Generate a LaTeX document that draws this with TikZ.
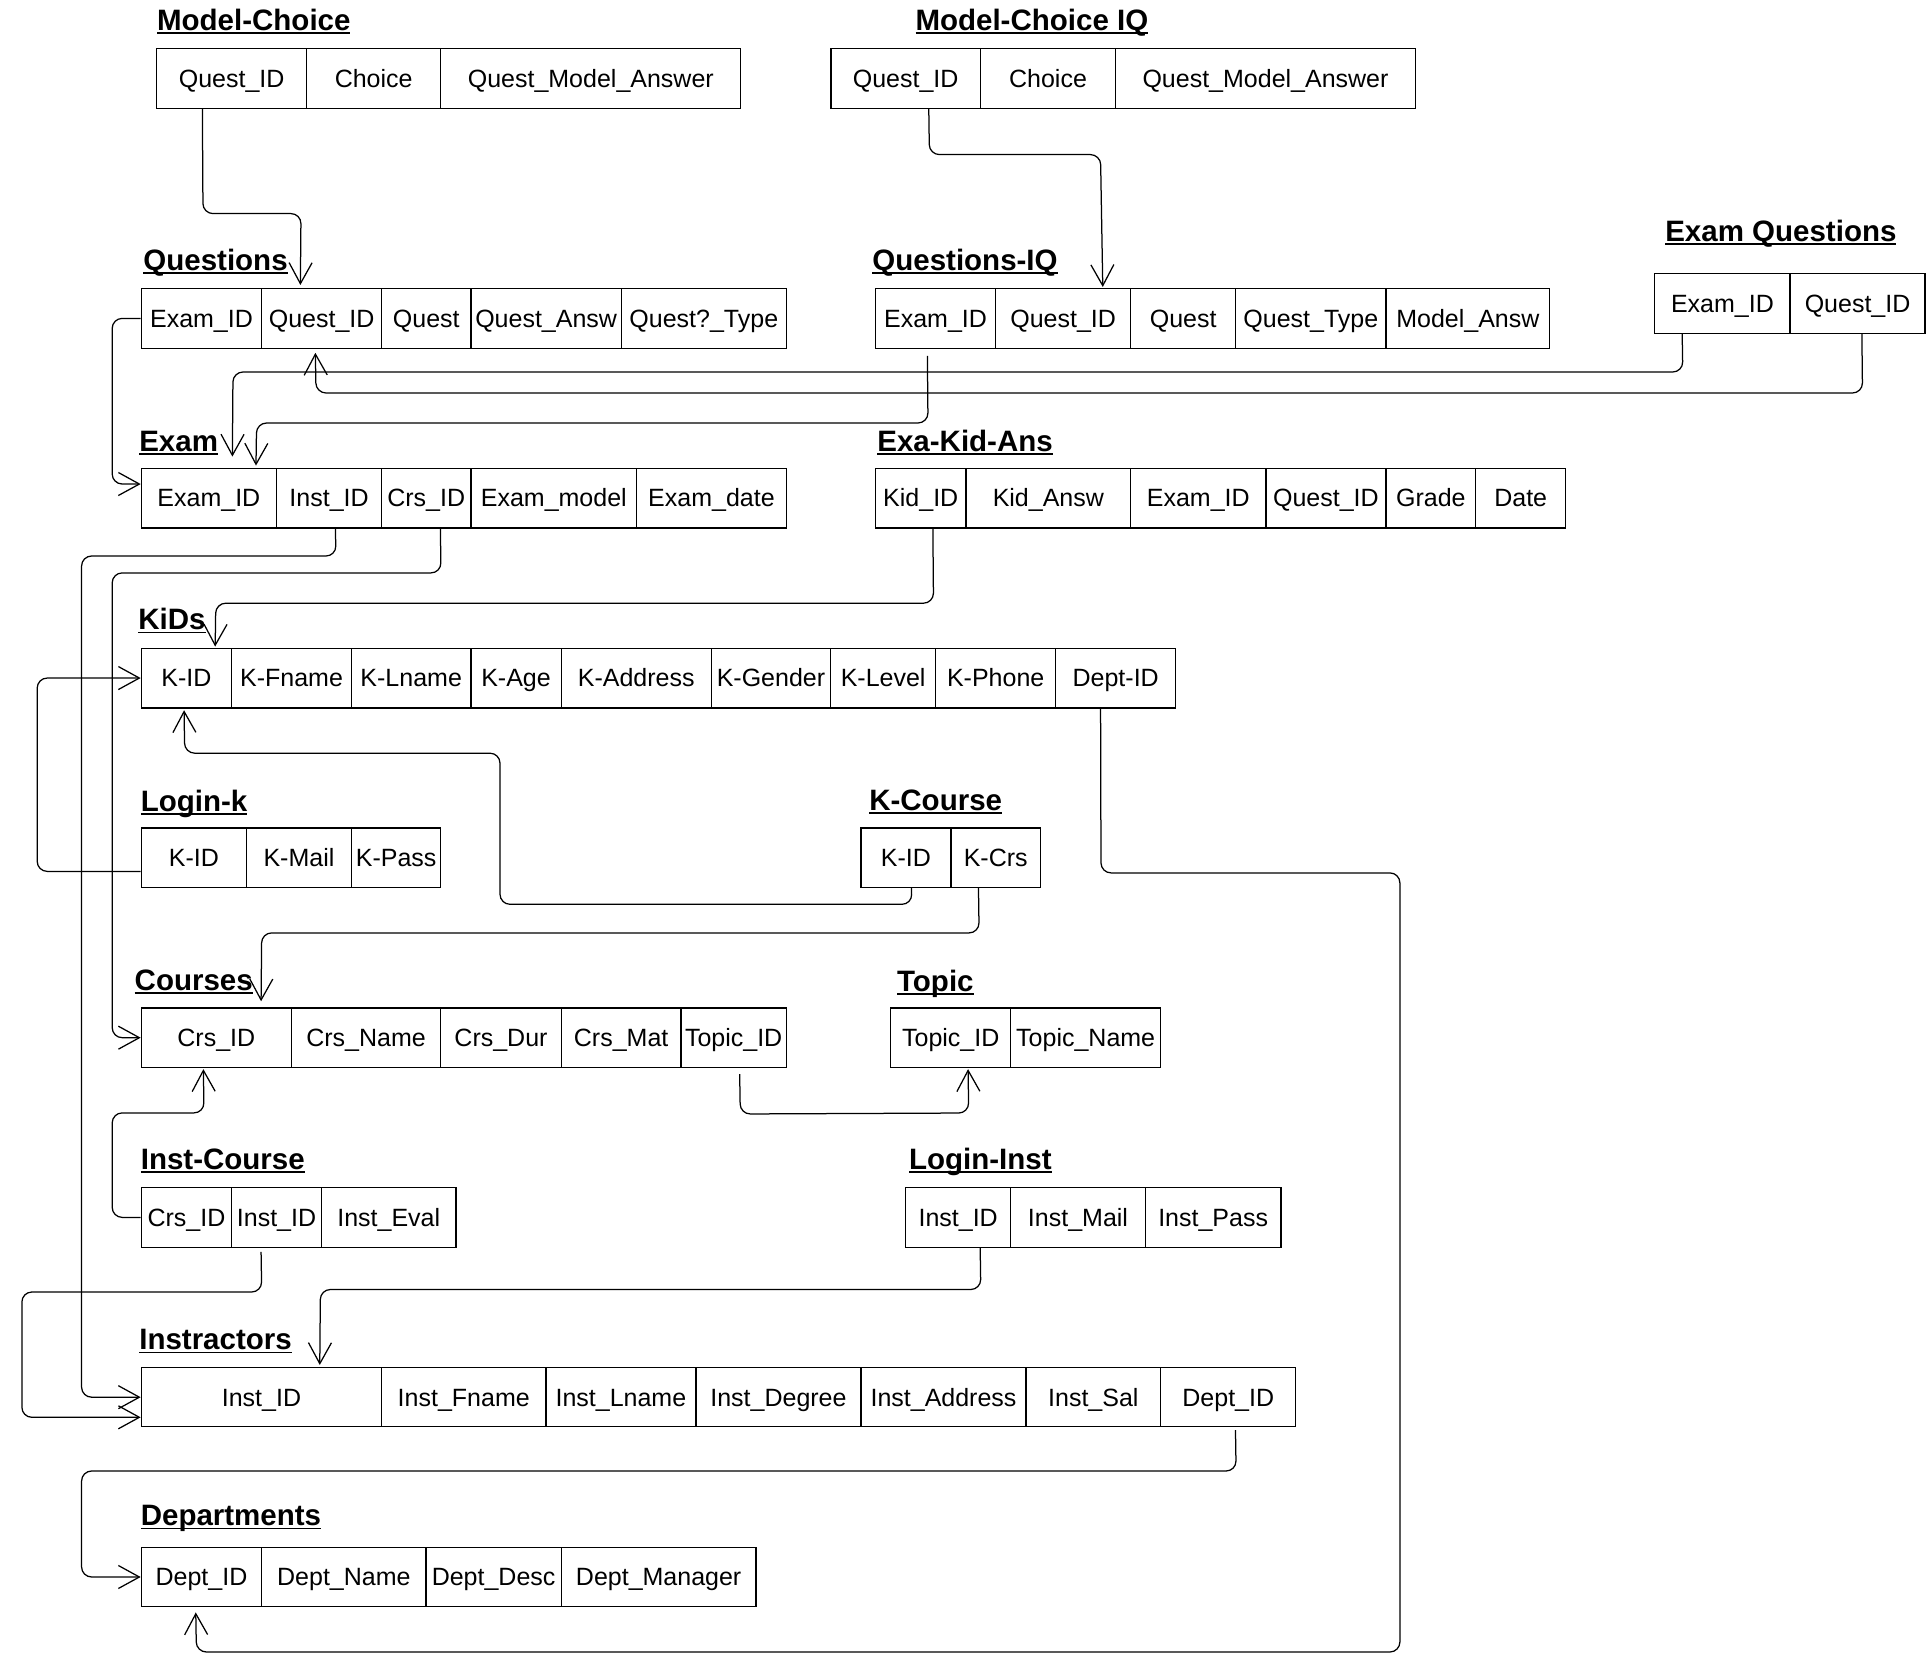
\documentclass[tikz,border=0pt]{standalone}
\usepackage{fontspec}
\setmainfont{Liberation Sans}
\usetikzlibrary{calc,arrows.meta}
\newcommand\cellfont{\fontsize{10}{12}\selectfont}
\newcommand\titlefont{\fontsize{11.8}{14}\selectfont\bfseries}
\newsavebox\ttlbox
\newcommand\ultitle[1]{\sbox\ttlbox{#1}\rlap{\rule[-1.4pt]{\wd\ttlbox}{0.7pt}}\usebox\ttlbox}
\newcommand\dbrow[4]{%
  \foreach \xa/\xb/\txt [count=\i] in {#4}{%
    \node[cellbox, minimum width={(\xb-\xa)*0.4pt}, minimum height={(#3-#2)*0.4pt}]
      (#1\i) at ({(\xa+\xb)/2},{(#2+#3)/2}) {\txt};
  }}
\begin{document}
\begin{tikzpicture}[x=0.4pt,y=-0.4pt,
  cellbox/.style={draw, line width=0.5pt, inner sep=0pt, font=\cellfont, text height=7.16pt, text depth=0pt},
  ttl/.style={anchor=base west, inner sep=0pt, font=\titlefont},
  link/.style={draw, line width=0.5pt, rounded corners=4pt, -{Straight Barb[length=8.4pt,width=9.2pt]}}]
\useasboundingbox (0,0) rectangle (1927,1677);

% titles
\node[ttl] (tmc)   at (156.6,30.3)  {\ultitle{Model-Choice}};
\node[ttl] (tmciq) at (915,30.3)    {\ultitle{Model-Choice IQ}};
\node[ttl] (tq)    at (142.9,270.7) {\ultitle{Questions}};
\node[ttl] (tqiq)  at (871.9,270.7) {\ultitle{Questions-IQ}};
\node[ttl] (teq)   at (1664.8,241.1){\ultitle{Exam Questions}};
\node[ttl] (tex)   at (138.8,451.7) {\ultitle{Exam}};
\node[ttl] (teka)  at (876.9,451.7) {\ultitle{Exa-Kid-Ans}};
\node[ttl] (tk)    at (137.8,630)   {\ultitle{KiDs}};
\node[ttl] (tlk)   at (140.3,811.4) {\ultitle{Login-k}};
\node[ttl] (tkc)   at (868.8,810.3) {\ultitle{K-Course}};
\node[ttl] (tc)    at (134.2,990)   {\ultitle{Courses}};
\node[ttl] (tt)    at (896.6,991.1) {\ultitle{Topic}};
\node[ttl] (tic)   at (140.3,1169.6){\ultitle{Inst-Course}};
\node[ttl] (tli)   at (908.6,1169.6){\ultitle{Login-Inst}};
\node[ttl] (ti)    at (138.8,1349.9){\ultitle{Instractors}};
\node[ttl] (td)    at (140.3,1525.9){\ultitle{Departments}};

% tables
\dbrow{mc}{48.6}{108.2}{156.6/306.6/Quest\_ID, 306.6/440.8/Choice, 440.8/740.8/Quest\_Model\_Answer}
\dbrow{mciq}{48.6}{108.2}{830.9/980.4/Quest\_ID, 980.4/1115.6/Choice, 1115.6/1415.4/Quest\_Model\_Answer}
\dbrow{q}{288.6}{348.2}{141.3/261.7/Exam\_ID, 261.7/381.6/Quest\_ID, 381.6/470.9/Quest, 470.9/621.4/Quest\_Answ, 621.4/786.2/Quest?\_Type}
\dbrow{qiq}{288.6}{348.2}{875.5/995.5/Exam\_ID, 995.5/1130.7/Quest\_ID, 1130.7/1235.7/Quest, 1235.7/1385.9/Quest\_Type, 1385.9/1549.8/Model\_Answ}
\dbrow{eq}{273.6}{333.2}{1654.8/1790/Exam\_ID, 1790/1925.1/Quest\_ID}
\dbrow{ex}{468.2}{527.9}{141.3/276.5/Exam\_ID, 276.5/381.6/Inst\_ID, 381.6/470.9/Crs\_ID, 470.9/636.7/Exam\_model, 636.7/786.2/Exam\_date}
\dbrow{eka}{468.2}{527.9}{875.5/966/Kid\_ID, 966/1130.7/Kid\_Answ, 1130.7/1265.9/Exam\_ID, 1265.9/1385.9/Quest\_ID, 1385.9/1475.8/Grade, 1475.8/1565.6/Date}
\dbrow{k}{648.2}{707.9}{141.3/231.6/K-ID, 231.6/351.5/K-Fname, 351.5/470.9/K-Lname, 470.9/561.2/K-Age, 561.2/711.2/K-Address, 711.2/830.7/K-Gender, 830.7/935.6/K-Level, 935.6/1055.8/K-Phone, 1055.8/1175.6/Dept-ID}
\dbrow{lk}{827.9}{887.5}{141.3/246.4/K-ID, 246.4/351.5/K-Mail, 351.5/440.8/K-Pass}
\dbrow{kc}{827.9}{887.5}{861/950.9/K-ID, 950.9/1040.5/K-Crs}
\dbrow{c}{1007.9}{1067.5}{141.3/291.3/Crs\_ID, 291.3/440.8/Crs\_Name, 440.8/561.2/Crs\_Dur, 561.2/681.1/Crs\_Mat, 681.1/786.2/Topic\_ID}
\dbrow{t}{1007.9}{1067.5}{890.8/1010.6/Topic\_ID, 1010.6/1160.7/Topic\_Name}
\dbrow{ic}{1187.6}{1247.2}{141.3/231.6/Crs\_ID, 231.6/321.4/Inst\_ID, 321.4/456.1/Inst\_Eval}
\dbrow{li}{1187.6}{1247.2}{905.7/1010.6/Inst\_ID, 1010.6/1145.4/Inst\_Mail, 1145.4/1280.9/Inst\_Pass}
\dbrow{i}{1367.6}{1426.8}{141.3/381.6/Inst\_ID, 381.6/545.9/Inst\_Fname, 545.9/695.9/Inst\_Lname, 695.9/861/Inst\_Degree, 861/1026/Inst\_Address, 1026/1160.7/Inst\_Sal, 1160.7/1295.8/Dept\_ID}
\dbrow{d}{1547.2}{1606.8}{141.3/261.7/Dept\_ID, 261.7/426/Dept\_Name, 426/561.2/Dept\_Desc, 561.2/756.1/Dept\_Manager}

% connectors
\draw[link] ($(mc1.south west)+(46.4,0)$) -- (203,213.6) -- (301,213.6) -- ($(q2.north west)+(39.3,-3)$);
\draw[link] ($(mciq1.south west)+(98.5,0)$) -- (929.4,154.6) -- (1100.5,154.6) -- ($(qiq2.north west)+(107.9,-1)$);
\draw[link] (q1.west) -- (112.2,318.4) -- (112.2,484) -- ($(ex1.west)+(0,-14)$);
\draw[link] ($(eq1.south west)+(28,0)$) -- (1682.8,372) -- (233,372) -- ($(ex1.north west)+(91.7,-11)$);
\draw[link] ($(eq2.south west)+(72.5,0)$) -- (1862.5,393) -- (316,393) -- ($(q2.south west)+(54.3,4)$);
\draw[link] ($(qiq1.south west)+(52.5,7)$) -- (928,423) -- (256.6,423) -- ($(ex1.north west)+(115.3,-2)$);
\draw[link] ($(ex2.south west)+(59.5,0)$) -- (336,556) -- (81.6,556) -- (81.6,1397.2) -- (i1.west);
\draw[link] ($(ex3.south west)+(59.4,0)$) -- (441,572.9) -- (112.2,572.9) -- (112.2,1037.7) -- (c1.west);
\draw[link] ($(eka1.south west)+(58,0)$) -- (933.5,603.2) -- (215.8,603.2) -- ($(k1.north west)+(74.5,-1)$);
\draw[link] ($(lk1.west)+(0,13.7)$) -- (37.2,871.4) -- (37.2,678.05) -- (k1.west);
\draw[link] ($(kc1.south west)+(51,0)$) -- (912,904.3) -- (500,904.3) -- (500,753.2) -- (184.7,753.2) -- ($(k1.south west)+(43.4,1.7)$);
\draw[link] ($(kc2.south west)+(28.2,0)$) -- (979.1,932.9) -- (261.7,932.9) -- ($(c1.north west)+(120.4,-6)$);
\draw[link] ($(c5.south west)+(59.2,6)$) -- (740.3,1114) -- (968.7,1113) -- ($(t1.south west)+(77.9,1)$);
\draw[link] (ic1.west) -- (112.2,1217.4) -- (112.2,1112.9) -- (204,1112.9) -- ($(c1.south west)+(62.7,1)$);
\draw[link] ($(ic2.south west)+(30.1,4)$) -- (261.7,1292) -- (21.9,1292) -- (21.9,1417.3) -- ($(i1.west)+(0,20.1)$);
\draw[link] ($(li1.south west)+(75.1,0)$) -- (980.8,1289.5) -- (320.4,1289.5) -- ($(i1.north west)+(179.1,-2)$);
\draw[link] ($(i7.south west)+(75.4,2.6)$) -- (1236.1,1471) -- (81.6,1471) -- (81.6,1577) -- (d1.west);
\draw[link] ($(k9.south west)+(45.4,0)$) -- (1101,872.9) -- (1399.9,872.9) -- (1399.9,1652) -- (196.4,1652) -- ($(d1.south west)+(55.1,5)$);
\end{tikzpicture}
\end{document}
